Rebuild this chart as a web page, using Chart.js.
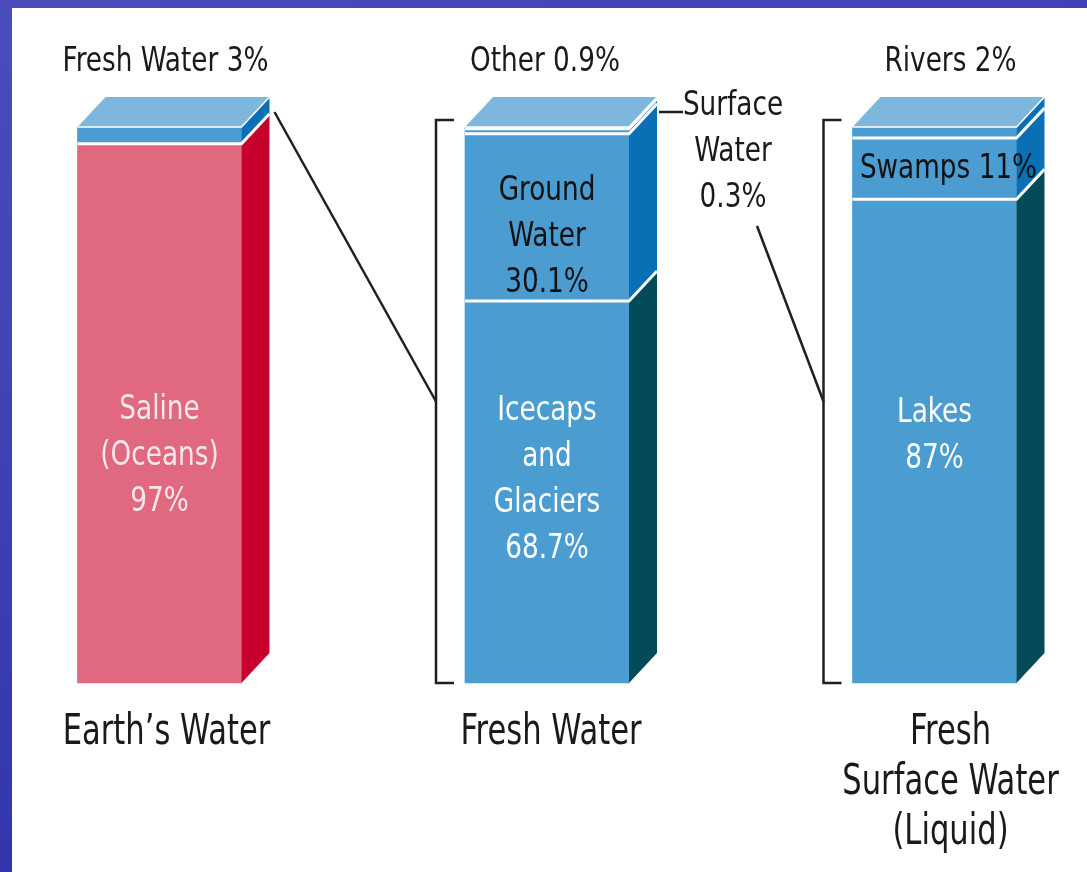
<!DOCTYPE html>
<html>
<head>
<meta charset="utf-8">
<script src="https://cdn.jsdelivr.net/npm/chart.js@4.4.1/dist/chart.umd.min.js"></script>
<style>
  html, body { margin: 0; padding: 0; }
  body { width: 1087px; height: 872px; overflow: hidden;
         background: linear-gradient(160deg, #4b4dbd 0%, #3a3cb2 50%, #2a2ba3 100%); }
  #wrap { position: absolute; left: 12px; top: 8px; width: 1075px; height: 864px; background: #fff; }
</style>
</head>
<body>
<div id="wrap"><canvas id="chart"></canvas></div>
<script>
// categories (bottom labels) and the stacked layers, bottom to top, in %
const categories = [["Earth\u2019s Water"], ["Fresh Water"], ["Fresh", "Surface Water", "(Liquid)"]];
const bottomLayer = [97, 68.7, 87];
const secondLayer = [3, 30.1, 11];
const thirdLayer = [null, 0.9, 2];
const topLayer = [null, 0.3, null];

// texts written inside the segments
const bottomText = [["Saline", "(Oceans)", "97%"], ["Icecaps", "and", "Glaciers", "68.7%"], ["Lakes", "87%"]];
const secondText = [null, ["Ground", "Water", "30.1%"], ["Swamps 11%"]];
// texts above each bar
const headText = ["Fresh Water 3%", "Other 0.9%", "Rivers 2%"];
const sideText = ["Surface", "Water", "0.3%"];

const FRONT_PINK = "#e0687f", SIDE_CRIMSON = "#c8002e";
const FRONT_BLUE = "#4b9cd1", TOP_BLUE = "#7eb7de", SIDE_BLUE = "#0a70b6", SIDE_TEAL = "#034b59";
const FONT = "'Liberation Sans Narrow', 'DejaVu Sans Condensed', 'Arial Narrow', sans-serif";

const depthX = 28, depthY = 30;

// narrow text: squeeze horizontally to get the condensed look
function squeezeText(ctx, text, x, y, sx) {
  ctx.save();
  ctx.translate(x, y);
  ctx.scale(sx, 1);
  ctx.fillText(text, 0, 0);
  ctx.restore();
}

const threeD = {
  id: "threeD",
  afterDatasetsDraw(chart) {
    const ctx = chart.ctx;
    const boxes = [];
    ctx.save();
    for (let i = 0; i < categories.length; i++) {
      let top = Infinity, base = 0, left = 0, right = 0;
      const tops = [];
      chart.data.datasets.forEach((ds, d) => {
        if (ds.data[i] == null) return;
        const el = chart.getDatasetMeta(d).data[i];
        left = el.x - el.width / 2; right = el.x + el.width / 2;
        ctx.fillStyle = ds.sideColor[i];
        ctx.beginPath();
        ctx.moveTo(right, el.base);
        ctx.lineTo(right, el.y);
        ctx.lineTo(right + depthX, el.y - depthY);
        ctx.lineTo(right + depthX, el.base - depthY);
        ctx.closePath();
        ctx.fill();
        tops.push(el.y);
        if (d === 0) base = el.base;
        top = Math.min(top, el.y);
      });
      // top face
      ctx.fillStyle = TOP_BLUE;
      ctx.beginPath();
      ctx.moveTo(left, top);
      ctx.lineTo(right, top);
      ctx.lineTo(right + depthX, top - depthY);
      ctx.lineTo(left + depthX, top - depthY);
      ctx.closePath();
      ctx.fill();
      // white separators
      ctx.strokeStyle = "#ffffff";
      tops.forEach((y, k) => {
        ctx.lineWidth = k === tops.length - 1 ? 1.5 : 3;
        ctx.beginPath();
        ctx.moveTo(left, y);
        ctx.lineTo(right, y);
        ctx.lineTo(right + depthX, y - depthY);
        ctx.stroke();
      });
      boxes.push({ left, right, top, base, cx: (left + right) / 2 });
    }

    // segment texts
    ctx.textAlign = "center";
    ctx.textBaseline = "middle";
    const drawLines = (lines, x, yMid, gap, color, size, sx) => {
      ctx.fillStyle = color;
      ctx.font = size + "px " + FONT;
      const y0 = yMid - (lines.length - 1) * gap / 2;
      lines.forEach((t, k) => squeezeText(ctx, t, x, y0 + k * gap, sx));
    };
    const textColors = [["#f8e8ec", "#ffffff", "#ffffff"], [null, "#111111", "#111111"]];
    const textAnchor = [[0.58, 0.47, 0.49], [0.5, 0.62, 0.5]];
    [bottomText, secondText].forEach((texts, d) => {
      const meta = chart.getDatasetMeta(d);
      texts.forEach((lines, i) => {
        if (!lines) return;
        const el = meta.data[i];
        const yMid = el.y + (el.base - el.y) * textAnchor[d][i];
        drawLines(lines, el.x + (d === 1 && i === 2 ? 14 : 0), yMid, 46, textColors[d][i], 34, 0.86);
      });
    });

    // head labels
    const headShift = [6, -2, 16];
    boxes.forEach((b, i) => {
      drawLines([headText[i]], b.cx + headShift[i], b.top - depthY - 35, 0, "#1a1a1a", 34, 0.86);
    });

    // category labels below
    const catShift = [7, 4, 16];
    boxes.forEach((b, i) => {
      ctx.fillStyle = "#1a1a1a";
      ctx.font = "42px " + FONT;
      categories[i].forEach((t, k) => squeezeText(ctx, t, b.cx + catShift[i], b.base + 50 + k * 50, 0.81));
    });

    // brackets and connectors
    ctx.strokeStyle = "#1f1f1f";
    ctx.lineWidth = 2.5;
    const bracket = (b) => {
      const x = b.left - 29, y1 = b.top - 7, y2 = b.base;
      ctx.beginPath();
      ctx.moveTo(x + 18, y1); ctx.lineTo(x, y1); ctx.lineTo(x, y2); ctx.lineTo(x + 18, y2);
      ctx.stroke();
      return { x, mid: (y1 + y2) / 2 };
    };
    const br2 = bracket(boxes[1]);
    const br3 = bracket(boxes[2]);
    ctx.beginPath();
    ctx.moveTo(boxes[0].right + depthX + 5, boxes[0].top - depthY / 2);
    ctx.lineTo(br2.x, br2.mid);
    ctx.stroke();

    // surface water pointer
    const sy = boxes[1].top - depthY / 2;
    ctx.beginPath();
    ctx.moveTo(boxes[1].right + depthX + 2, sy);
    ctx.lineTo(boxes[1].right + depthX + 26, sy);
    ctx.stroke();
    drawLines(sideText, boxes[1].right + 104, sy + 40, 46, "#1a1a1a", 34, 0.86);
    ctx.beginPath();
    ctx.moveTo(boxes[1].right + 128, sy + 114);
    ctx.lineTo(br3.x, br3.mid);
    ctx.stroke();
    ctx.restore();
  }
};

const layerColors = (front, side) => ({ backgroundColor: front, sideColor: side });

new Chart(document.getElementById("chart"), {
  type: "bar",
  data: {
    labels: categories.map(c => c.join(" ")),
    datasets: [
      { label: "Layer 1", data: bottomLayer, ...layerColors([FRONT_PINK, FRONT_BLUE, FRONT_BLUE], [SIDE_CRIMSON, SIDE_TEAL, SIDE_TEAL]) },
      { label: "Layer 2", data: secondLayer, ...layerColors([FRONT_BLUE, FRONT_BLUE, FRONT_BLUE], [SIDE_BLUE, SIDE_BLUE, SIDE_BLUE]) },
      { label: "Layer 3", data: thirdLayer, ...layerColors([FRONT_BLUE, FRONT_BLUE, FRONT_BLUE], [SIDE_BLUE, SIDE_BLUE, SIDE_BLUE]) },
      { label: "Layer 4", data: topLayer, ...layerColors([FRONT_BLUE, FRONT_BLUE, FRONT_BLUE], [SIDE_BLUE, SIDE_BLUE, SIDE_BLUE]) }
    ]
  },
  options: {
    responsive: true,
    maintainAspectRatio: false,
    animation: false,
    layout: { padding: { left: 147.5, right: 152.5, top: 119, bottom: 189 } },
    datasets: { bar: { barThickness: 164, clip: false, borderWidth: 0 } },
    scales: {
      x: { stacked: true, offset: false, display: false },
      y: { stacked: true, min: 0, max: 100, display: false }
    },
    plugins: { legend: { display: false }, tooltip: { enabled: false } }
  },
  plugins: [threeD]
});
</script>
</body>
</html>
